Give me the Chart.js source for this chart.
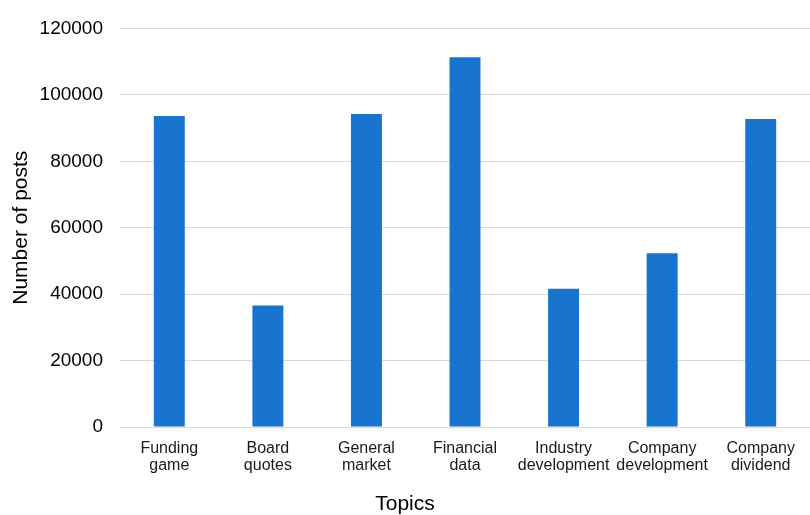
<!DOCTYPE html>
<html>
<head>
<meta charset="utf-8">
<script src="https://cdn.jsdelivr.net/npm/chart.js@4/dist/chart.umd.min.js"></script>
<style>
    html, body { margin: 0; padding: 0; background: #ffffff; }
    #wrap { width: 810px; height: 515px; }
</style>
</head>
<body>
<div id="wrap"><canvas id="postsChart" width="810" height="515"></canvas></div>
<script>
// topics and post counts
var topics = [
    ['Funding', 'game'],
    ['Board', 'quotes'],
    ['General', 'market'],
    ['Financial', 'data'],
    ['Industry', 'development'],
    ['Company', 'development'],
    ['Company', 'dividend']
];
var posts = [93600, 36600, 94200, 111300, 41600, 52300, 92700];
var yTicks = [0, 20000, 40000, 60000, 80000, 100000, 120000];

var fontName = "'Liberation Sans', Arial, sans-serif";

function drawChart() {
    var data = {
        labels: topics,
        datasets: [{
            label: 'Number of posts',
            data: posts,
            backgroundColor: '#1874CD',
            borderWidth: 0,
            barPercentage: 0.314,
            categoryPercentage: 1
        }]
    };

    var options = {
        responsive: false,
        animation: false,
        layout: { padding: { top: 27, right: 0, bottom: 0, left: 0 } },
        plugins: {
            legend: { display: false },
            tooltip: { enabled: false },
            // axis title sits in the middle of the whole picture, so use the title plugin
            title: {
                display: true,
                position: 'bottom',
                text: 'Topics',
                color: '#000000',
                padding: { top: 3, bottom: 0 },
                font: { family: fontName, size: 21, weight: 'normal', lineHeight: 1 }
            }
        },
        scales: {
            x: {
                grid: { display: false, drawTicks: false },
                border: { display: true, color: '#d9d9d9', width: 1 },
                ticks: {
                    color: '#1a1a1a',
                    padding: 13,
                    maxRotation: 0,
                    autoSkip: false,
                    font: { family: fontName, size: 16, lineHeight: 1.05 }
                },
                afterFit: function (scale) { scale.height = 64; }
            },
            y: {
                min: 0,
                max: 120000,
                afterBuildTicks: function (scale) {
                    scale.ticks = yTicks.map(function (v) { return { value: v }; });
                },
                grid: { color: '#d9d9d9', lineWidth: 1, drawTicks: false },
                border: { display: false },
                ticks: {
                    color: '#000000',
                    padding: 17,
                    font: { family: fontName, size: 19 },
                    callback: function (value) { return String(value); }
                },
                title: {
                    display: true,
                    text: 'Number of posts',
                    color: '#000000',
                    padding: { top: 9, bottom: 0 },
                    font: { family: fontName, size: 21, lineHeight: 1.2 }
                },
                afterFit: function (scale) { scale.width = 120; }
            }
        }
    };

    var postsChart = new Chart(document.getElementById('postsChart'), {
        type: 'bar',
        data: data,
        options: options
    });
}

drawChart();
</script>
</body>
</html>
